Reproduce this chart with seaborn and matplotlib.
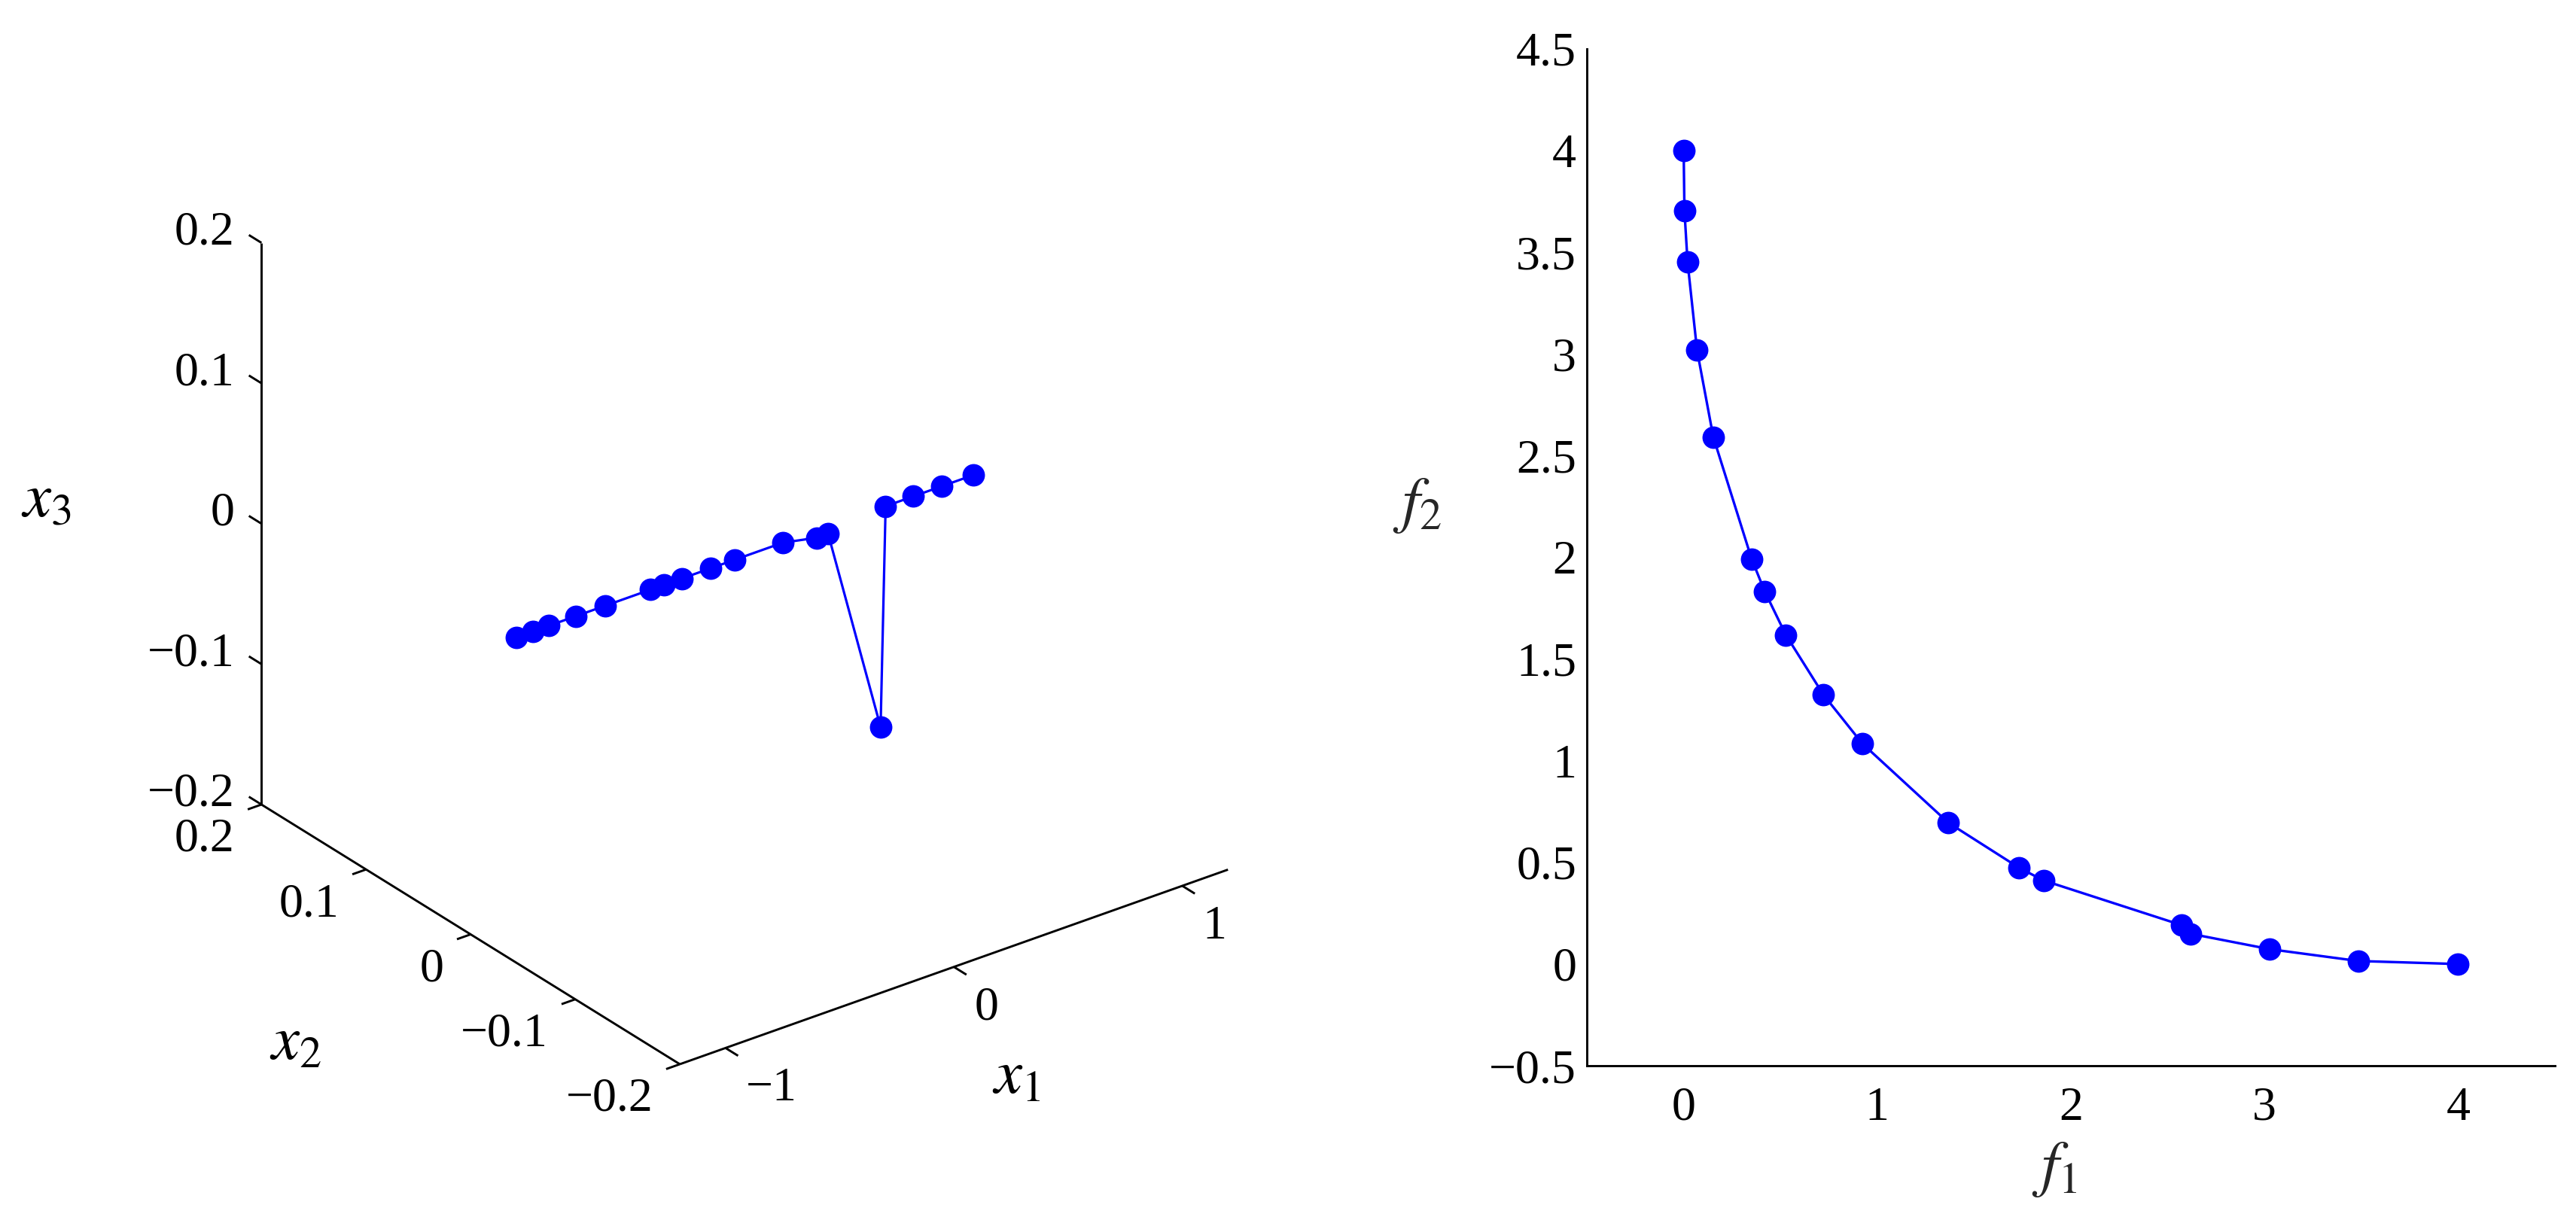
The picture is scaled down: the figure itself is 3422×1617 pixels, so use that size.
import numpy as np
import matplotlib
matplotlib.use('Agg')
import matplotlib.pyplot as plt
import matplotlib.transforms as mtransforms
from mpl_toolkits.mplot3d import proj3d
import seaborn as sns

# decision space (left panel)
x1 = [-1.0, -0.926, -0.857, -0.739, -0.611, -0.412, -0.354, -0.275, -0.150, -0.043,
      0.167, 0.314, 0.365, 0.595, 0.617, 0.739, 0.864, 1.0]
x2 = [0.0, 0.0, 0.0, 0.0, 0.0, 0.0, 0.0, 0.0, 0.0, 0.0,
      0.0, 0.0, 0.0, 0.0, 0.0, 0.0, 0.0, 0.0]
x3 = [0.0, 0.0, 0.0, 0.0, 0.0, 0.0, 0.0, 0.0, 0.0, 0.0,
      0.0, -0.005, -0.005, -0.156, 0.0, 0.0, 0.0, 0.0]

# objective space (right panel)
f1 = [0.0, 0.004, 0.02, 0.069, 0.153, 0.351, 0.419, 0.528, 0.722, 0.923,
      1.367, 1.733, 1.859, 2.573, 2.617, 3.028, 3.484, 4.0]
f2 = [4.0, 3.706, 3.454, 3.019, 2.592, 1.992, 1.832, 1.618, 1.324, 1.084,
      0.695, 0.473, 0.411, 0.191, 0.149, 0.073, 0.015, 0.0]

x1_ticks = [-1, 0, 1]
x1_labels = ['\u22121', '0', '1']
x2_ticks = [-0.2, -0.1, 0, 0.1, 0.2]
x2_labels = ['\u22120.2', '\u22120.1', '0', '0.1', '0.2']
x3_ticks = [-0.2, -0.1, 0, 0.1, 0.2]
x3_labels = ['\u22120.2', '\u22120.1', '0', '0.1', '0.2']
f1_ticks = [0, 1, 2, 3, 4]
f1_labels = ['0', '1', '2', '3', '4']
f2_ticks = [-0.5, 0, 0.5, 1, 1.5, 2, 2.5, 3, 3.5, 4, 4.5]
f2_labels = ['\u22120.5', '0', '0.5', '1', '1.5', '2', '2.5', '3', '3.5', '4', '4.5']

sns.set_style('white', rc={'axes.edgecolor': 'black', 'text.color': 'black',
                           'xtick.color': 'black', 'ytick.color': 'black'})
plt.rcParams['font.family'] = ['Liberation Serif', 'DejaVu Serif']
plt.rcParams['mathtext.fontset'] = 'stix'

W, H = 3423, 1617
fig = plt.figure(figsize=(W / 100, H / 100), dpi=100)
blue = (0, 0, 1)
tick_fs = 46
label_fs = 60
axis_lw = 2.1

# ---- left: 3D view (matlab default view -37.5/30 stretched to fill) ----
ax3 = fig.add_axes([0.0, 0.0, 0.5, 1.0], projection='3d', proj_type='ortho')
ax3.set_xlim(-1.2, 1.2)
ax3.set_ylim(-0.2, 0.2)
ax3.set_zlim(-0.2, 0.2)
ax3.view_init(elev=28, azim=-127.1)
ax3.set_box_aspect((1.08, 1.09, 1.0))
ax3.set_axis_off()

# place the box so its corners land where they are in the reference
fig.canvas.draw()
M = ax3.get_proj()
corners = [(-1.2, 0.2, -0.2), (-1.2, -0.2, -0.2), (1.2, -0.2, -0.2), (-1.2, 0.2, 0.2)]
targets = [(347, H - 1073), (903, H - 1413), (1632, H - 1152), (347, H - 323)]
rows, rhs = [], []
for c, t in zip(corners, targets):
    xs, ys, _ = proj3d.proj_transform(c[0], c[1], c[2], M)
    fx, fy = ax3.transAxes.inverted().transform(ax3.transData.transform((xs, ys)))
    rows.append([1, 0, fx]); rhs.append(t[0])
    rows.append([0, 1, fy]); rhs.append(t[1])
ox, oy, S = np.linalg.lstsq(np.array(rows), np.array(rhs), rcond=None)[0]
ax3.set_position([ox / W, oy / H, S / W, S / H])

# axis lines
k = dict(color='black', lw=axis_lw, solid_capstyle='butt')
ax3.plot([-1.2, -1.2], [0.2, 0.2], [-0.2, 0.2], **k)
ax3.plot([-1.2, -1.2], [0.2, -0.2], [-0.2, -0.2], **k)
ax3.plot([-1.2, 1.2], [-0.2, -0.2], [-0.2, -0.2], **k)


def tick_text(x, y, z, s, ha, dx, dy):
    # project the tick base once, then write a plain 2D label next to it
    xs, ys, _ = proj3d.proj_transform(x, y, z, M)
    tr = mtransforms.offset_copy(ax3.transData, fig=fig, x=dx, y=dy, units='dots')
    ax3.text2D(xs, ys, s, ha=ha, va='center', fontsize=tick_fs, transform=tr)


for v, s in zip(x3_ticks, x3_labels):
    ax3.plot([-1.2, -1.2], [0.2, 0.212], [v, v], **k)
    tick_text(-1.2, 0.2, v, s, 'right', -36, 13)
for v, s in zip(x2_ticks, x2_labels):
    ax3.plot([-1.2, -1.26], [v, v], [-0.2, -0.2], **k)
    tick_text(-1.2, v, -0.2, s, 'right', -36, -47)
for v, s in zip(x1_ticks, x1_labels):
    ax3.plot([v, v], [-0.2, -0.212], [-0.2, -0.2], **k)
    tick_text(v, -0.2, -0.2, s, 'left', 27, -55)

ax3.plot(x1, x2, x3, color=blue, lw=2.3, marker='o', ms=21.5, mew=0, mfc=blue)

fig.text(61 / W, 1 - 667 / H, '$x_3$', fontsize=label_fs, ha='center', va='center')
fig.text(393 / W, 1 - 1388 / H, '$x_2$', fontsize=label_fs, ha='center', va='center')
fig.text(1350 / W, 1 - 1432 / H, '$x_1$', fontsize=label_fs, ha='center', va='center')

# ---- right: objective space ----
ax2 = fig.add_axes([2108 / W, (H - 1416) / H, (3394 - 2108) / W, (1416 - 65) / H])
sns.lineplot(x=f1, y=f2, sort=False, estimator=None, color=blue, lw=2.4, ax=ax2)
sns.scatterplot(x=f1, y=f2, color=blue, s=21.5 ** 2, linewidth=0, ax=ax2, zorder=3)
ax2.set_xlim(-0.5, 4.5)
ax2.set_ylim(-0.5, 4.5)
ax2.set_xticks(f1_ticks)
ax2.set_xticklabels(f1_labels)
ax2.set_yticks(f2_ticks)
ax2.set_yticklabels(f2_labels)
sns.despine(ax=ax2)
for sp in ax2.spines.values():
    sp.set_linewidth(axis_lw)
ax2.tick_params(direction='in', length=9.4, width=axis_lw, labelsize=tick_fs)
ax2.tick_params(axis='x', pad=20)
ax2.tick_params(axis='y', pad=10)
ax2.set_xlabel('$f_1$', fontsize=label_fs)
ax2.set_ylabel('$f_2$', fontsize=label_fs, rotation=0)
ax2.xaxis.set_label_coords(0.483, -0.102)
ax2.yaxis.set_label_coords(-0.175, 0.551)
ax2.xaxis.label.set_va('center')
ax2.yaxis.label.set_va('center')
ax2.yaxis.label.set_ha('center')

fig.savefig('out.png', dpi=100)
